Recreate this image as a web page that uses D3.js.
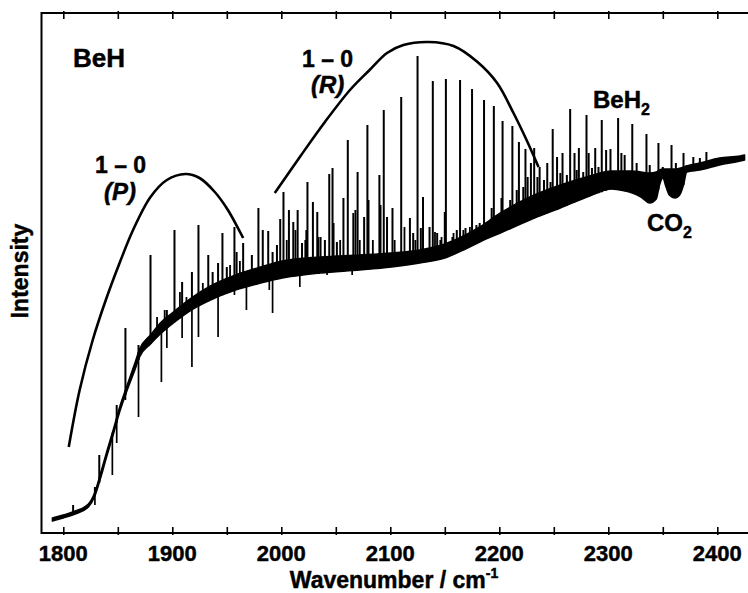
<!DOCTYPE html>
<html><head><meta charset="utf-8">
<script src="https://cdn.jsdelivr.net/npm/d3@7"></script>
<style>
body{margin:0;background:#fff}
svg text.lbl{font-family:"Liberation Sans",Arial,Helvetica,sans-serif;font-weight:bold;fill:#000;stroke:#000;stroke-width:0.45px}
</style>
</head><body>
<svg id="c" width="748" height="593"></svg>
<script>
// ---------------- data (intensity in arbitrary units) ----------------
const xTicks = [1800,1850,1900,1950,2000,2050,2100,2150,2200,2250,2300,2350,2400];
const xTickLabels = ['1800','1900','2000','2100','2200','2300','2400'];

// continuum / dense background band: wavenumber, lower edge, upper edge
const bandWn   = [1790,1800,1811,1823,1829,1834,1840,1846,1852,1858,1866,1870,1880,1889,1901,1916,1935,1958,1981,2001,2036,2072,2101,2127,2150,2169,2182,2201,2228,2256,2283,2303,2315,2322,2330,2338,2344,2347,2350,2353,2356,2361,2366,2369,2372,2384,2402,2421,2425];
const bandLow  = [12,15,19,26,37,54,77,99,122,141,164,176,189,199,210,222,233,243,250,255,260,263,266,270,275,284,291,300,313,325,337,344,342,340,336,330,334,348,355,346,338,335,339,348,361,363,368,372,373];
const bandHigh = [15,18,22,29,41,59,82,104,127,146,171,184,198,210,221,234,247,258,266,272,276,278,280,283,289,298,306,320,336,348,357,362,362,362,361,360,361,363,364,364,364,364,365,366,367,370,375,377,378];

// strong emission lines: wavenumber and peak intensity
const lineWn = [
 1809,1829,1833,1849,1857,1869,1880,1890,1895,1902,
 1909,1918,1924,1933,1937,1942,1946,1950,1957,1959,
 1965,1973,1979,1983,1988,1992,1996,1999,2002,2007,
 2011,2015,2019,2023,2024,2029,2033,2036,2040,2044,
 2047,2051,2057,2061,2068,2070,2076,2079,2080,2090,
 2091,2094,2097,2102,2110,2118,2121,2125,2128,2130,
 2136,2139,2143,2146,2150,2151,2157,2161,2164,2169,
 2175,2179,2182,2186,2193,2195,2202,2203,2210,2212,
 2216,2218,2222,2224,2226,2229,2232,2235,2237,2241,
 2244,2247,2249,2253,2256,2258,2262,2265,2269,2271,
 2273,2277,2280,2282,2285,2288,2291,2294,2298,2302,
 2309,2312,2315,2322,2326,2335,2338,2346,2350,2358,
 2362,2369,2372,2378,2384,2390,2395,2401];
const lineTop = [
 28,46,78,128,205,188,278,206,223,303,
 251,261,308,278,261,270,300,266,306,281,
 290,278,325,303,302,281,288,314,341,323,
 311,323,290,303,351,331,321,296,293,359,
 365,291,335,393,323,361,316,408,333,358,
 328,423,316,325,436,315,300,477,305,336,
 306,452,300,293,321,454,296,303,453,305,
 444,308,310,433,325,427,335,412,333,407,
 343,391,346,384,356,370,385,356,366,353,
 370,351,404,376,360,380,358,424,380,363,
 385,361,418,380,365,385,366,413,383,384,
 415,380,378,409,370,399,368,390,366,388,
 370,380,368,376,375,381,373,375];

// weaker lines in the dense forest
const weakWn  = [1886,1893,1907,1913,1928,1953,1962,2005,2013,2022,2034,2048,2054,2066,2072,2084,2104,2113,2123,2141,2147,2158,2167,2173];
const weakTop = [216,223,241,236,250,268,272,293,303,293,296,310,293,320,293,293,293,306,293,301,296,300,303,306];

// downward spikes below the continuum
const dipWn     = [1829,1833,1845,1849,1857,1869,1890,1895,1909,1918,1924,1942,1957,1968,1989,1992,2017,2042,2065];
const dipBottom = [28,50,58,90,133,116,151,185,195,166,196,196,238,223,243,220,246,258,258];

// rotational envelopes
const pEnvWn = [1805,1815,1827,1839,1852,1864,1880,1895,1912,1925,1939,1951,1965];
const pEnvI  = [86,143,193,233,271,303,336,353,359,355,341,323,295];
const rEnvWn = [1994,2017,2040,2063,2081,2097,2112,2135,2158,2180,2198,2213,2225,2236];
const rEnvI  = [340,376,411,443,463,480,488,491,487,471,450,420,393,366];

// ---------------- chart ----------------
const svg = d3.select('#c');
const x = d3.scaleLinear().domain([1780,2430]).range([41.5,750]);
const y = d3.scaleLinear().domain([0,520]).range([533,13]);

svg.append('clipPath').attr('id','clip').append('rect')
  .attr('x',x(1780)).attr('y',y(520)).attr('width',x(2430)-x(1780)).attr('height',y(0)-y(520));
const g = svg.append('g').attr('clip-path','url(#clip)');

function interp(wn, arr){
  const i = d3.bisectLeft(bandWn, wn);
  if(i<=0) return arr[0];
  if(i>=bandWn.length) return arr[arr.length-1];
  const t=(wn-bandWn[i-1])/(bandWn[i]-bandWn[i-1]);
  return arr[i-1]+t*(arr[i]-arr[i-1]);
}

// band
const area = d3.area().curve(d3.curveMonotoneX)
  .x((d,i)=>x(bandWn[i])).y0((d,i)=>y(bandLow[i])).y1((d,i)=>y(bandHigh[i]));
g.append('path').datum(bandWn).attr('d',area)
  .attr('fill','#000').attr('stroke','#000').attr('stroke-width',1.5).attr('stroke-linejoin','round');

// weak lines
g.selectAll('line.wk').data(weakWn).join('line').attr('class','wk')
  .attr('x1',d=>x(d)).attr('x2',d=>x(d))
  .attr('y1',d=>y(interp(d,bandLow)))
  .attr('y2',(d,i)=>y(weakTop[i]))
  .attr('stroke','#000').attr('stroke-width',1.8);

// emission lines
g.selectAll('line.pk').data(lineWn).join('line').attr('class','pk')
  .attr('x1',d=>x(d)).attr('x2',d=>x(d))
  .attr('y1',d=>y(interp(d,bandLow)))
  .attr('y2',(d,i)=>y(lineTop[i]))
  .attr('stroke','#000').attr('stroke-width',2);

// downward spikes
g.selectAll('line.dp').data(dipWn).join('line').attr('class','dp')
  .attr('x1',d=>x(d)).attr('x2',d=>x(d))
  .attr('y1',d=>y(interp(d,bandHigh)))
  .attr('y2',(d,i)=>y(dipBottom[i]))
  .attr('stroke','#000').attr('stroke-width',1.7);

// envelopes
const env = d3.line().curve(d3.curveCatmullRom.alpha(0.5));
g.append('path').attr('d',env(pEnvWn.map((w,i)=>[x(w),y(pEnvI[i])])))
  .attr('fill','none').attr('stroke','#000').attr('stroke-width',2.6);
g.append('path').attr('d',env(rEnvWn.map((w,i)=>[x(w),y(rEnvI[i])])))
  .attr('fill','none').attr('stroke','#000').attr('stroke-width',2.6);

// frame
const fr = svg.append('g').attr('stroke','#000').attr('stroke-width',2);
fr.append('line').attr('x1',x(1780)).attr('x2',x(1780)).attr('y1',y(520)-1).attr('y2',y(0)+1);
fr.append('line').attr('x1',x(1780)).attr('x2',748).attr('y1',y(520)).attr('y2',y(520));
fr.append('line').attr('x1',x(1780)).attr('x2',748).attr('y1',y(0)).attr('y2',y(0));

// bottom ticks (inward, crossing the axis slightly)
const ax = d3.axisBottom(x).tickValues(xTicks).tickSizeInner(-6).tickSizeOuter(0).tickFormat('');
const gx = svg.append('g').attr('transform',`translate(0,${y(0)})`).call(ax);
gx.select('.domain').remove();
gx.selectAll('.tick line').attr('y1',2).attr('stroke','#000').attr('stroke-width',1.6);

// top ticks
const axT = d3.axisTop(x).tickValues(xTicks).tickSizeInner(-6).tickSizeOuter(0).tickFormat('');
const gt = svg.append('g').attr('transform',`translate(0,${y(520)})`).call(axT);
gt.select('.domain').remove();
gt.selectAll('.tick line').attr('y1',-2).attr('stroke','#000').attr('stroke-width',1.6);

// tick labels
svg.selectAll('text.tk').data(xTickLabels).join('text').attr('class','lbl tk')
  .attr('x',d=>x(+d)).attr('y',y(0)+28).attr('text-anchor','middle')
  .style('font-size','22px').text(d=>d);

// axis titles
const xt = svg.append('text').attr('class','lbl').attr('x',394).attr('y',588).attr('text-anchor','middle').style('font-size','23px');
xt.append('tspan').text('Wavenumber / cm');
xt.append('tspan').attr('dy',-10).style('font-size','14px').text('-1');

svg.append('text').attr('class','lbl').attr('transform','translate(28,271) rotate(-90)')
  .attr('text-anchor','middle').style('font-size','23px').text('Intensity');

// annotations
function label(px,py,txt,opts={}){
  const t = svg.append('text').attr('class','lbl').attr('x',px).attr('y',py).style('font-size',(opts.size||23)+'px');
  if(opts.italic) t.style('font-style','italic');
  t.append('tspan').text(txt);
  if(opts.sub){ t.append('tspan').attr('dy',7).style('font-size','16px').text(opts.sub); }
  return t;
}
label(73,67,'BeH',{size:26});
label(95,173,'1 – 0');
label(104,200,'(P)',{italic:true,size:24});
label(302,67,'1 – 0');
label(311,93,'(R)',{italic:true,size:24});
label(593,108,'BeH',{sub:'2',size:24});
label(647,231,'CO',{sub:'2',size:24});
</script>
</body></html>
